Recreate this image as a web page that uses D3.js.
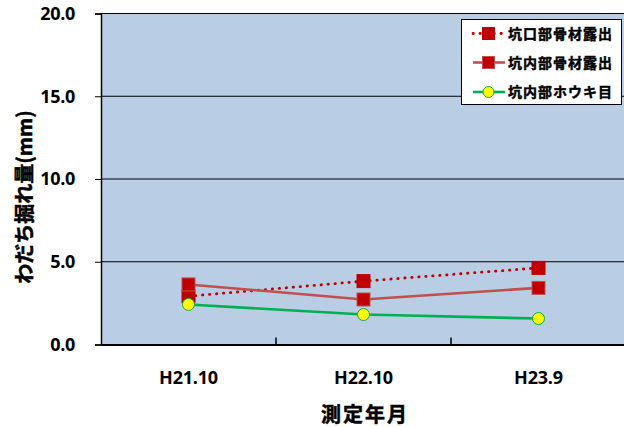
<!DOCTYPE html>
<html><head><meta charset="utf-8">
<script src="https://cdn.jsdelivr.net/npm/d3@7"></script>
<style>
html,body{margin:0;padding:0;background:#fff;overflow:hidden;}
svg{display:block;font-family:"Open Sans","Noto Sans CJK JP",sans-serif;}
</style></head>
<body>
<svg id="chart" width="624" height="427"></svg>
<script>
const categories = ["H21.10", "H22.10", "H23.9"];
const seriesNames = ["坑口部骨材露出", "坑内部骨材露出", "坑内部ホウキ目"];
const koguchiKotsuzai = [2.92, 3.83, 4.63];
const kounaiKotsuzai = [3.63, 2.72, 3.42];
const kounaiHouki = [2.42, 1.81, 1.57];
const yTicks = [0, 5, 10, 15, 20];
const yTitle = "わだち掘れ量(mm)";
const xTitle = "測定年月";

const series = [
  {name: seriesNames[0], values: koguchiKotsuzai, stroke: "#C00000", dash: "0.4,6.6", width: 2.8, marker: "square", fill: "#C00000", mstroke: "#C00000"},
  {name: seriesNames[1], values: kounaiKotsuzai, stroke: "#C0504D", dash: null, width: 2.6, marker: "square", fill: "#C00000", mstroke: "#C0504D"},
  {name: seriesNames[2], values: kounaiHouki, stroke: "#00B050", dash: null, width: 2.6, marker: "circle", fill: "#FFFF00", mstroke: "#00B050"}
];

const svg = d3.select("#chart");
const L = 101, R = 626, T = 13.5, B = 344.5;
const x = d3.scaleBand().domain(categories).range([L, R]);
const y = d3.scaleLinear().domain([0, 20]).range([B, T]);

svg.append("rect").attr("x", L).attr("y", T).attr("width", R - L).attr("height", B - T).attr("fill", "#B9CDE5");

svg.append("g").selectAll("line").data(yTicks.filter(d => d > 0)).join("line")
  .attr("x1", L).attr("x2", R).attr("y1", d => y(d)).attr("y2", d => y(d))
  .attr("stroke", "#000").attr("stroke-width", 1);

const yAxis = svg.append("g").attr("transform", `translate(${L},0)`)
  .call(d3.axisLeft(y).tickValues(yTicks).tickFormat(d3.format(".1f")).tickSize(6).tickPadding(20));
yAxis.select(".domain").attr("stroke", "#000").attr("stroke-width", 1.5);
yAxis.selectAll(".tick line").attr("stroke", "#000");
yAxis.selectAll("text").attr("font-size", 18).attr("font-weight", "bold").attr("fill", "#000")
  .attr("font-family", "'Open Sans',sans-serif").attr("letter-spacing", -0.3);

const xAxis = svg.append("g").attr("transform", `translate(0,${B})`)
  .call(d3.axisBottom(x).tickSize(0).tickPadding(27));
xAxis.select(".domain").attr("stroke", "#000").attr("stroke-width", 2);
xAxis.selectAll("text").attr("font-size", 18).attr("font-weight", "bold").attr("fill", "#000")
  .attr("font-family", "'Open Sans',sans-serif").attr("letter-spacing", -0.2);
svg.append("g").selectAll("line").data(categories.slice(1)).join("line")
  .attr("x1", d => x(d)).attr("x2", d => x(d)).attr("y1", B - 7).attr("y2", B)
  .attr("stroke", "#000").attr("stroke-width", 1.5);

svg.append("text").attr("transform", `translate(32,197) rotate(-90)`).attr("text-anchor", "middle")
  .attr("font-size", 20).attr("font-weight", "bold").attr("font-family", "'Noto Sans CJK JP',sans-serif")
  .attr("stroke", "#000").attr("stroke-width", 0.5)
  .text(yTitle);
svg.append("text").attr("x", 365).attr("y", 422).attr("text-anchor", "middle")
  .attr("font-size", 20).attr("font-weight", "bold").attr("font-family", "'Noto Sans CJK JP',sans-serif")
  .attr("stroke", "#000").attr("stroke-width", 0.5)
  .attr("letter-spacing", 2).text(xTitle);

const cx = d => x(d) + x.bandwidth() / 2;
const line = d3.line().x(d => cx(d.c)).y(d => y(d.v));

series.forEach(s => {
  const pts = categories.map((c, i) => ({c, v: s.values[i]}));
  const p = svg.append("path").datum(pts).attr("d", line).attr("fill", "none")
    .attr("stroke", s.stroke).attr("stroke-width", s.width).attr("stroke-linecap", s.dash ? "round" : "butt");
  if (s.dash) p.attr("stroke-dasharray", s.dash);
});
series.forEach(s => {
  const pts = categories.map((c, i) => ({c, v: s.values[i]}));
  const g = svg.append("g");
  if (s.marker === "square") {
    g.selectAll("rect").data(pts).join("rect")
      .attr("x", d => cx(d.c) - 6.5).attr("y", d => y(d.v) - 6.5).attr("width", 13).attr("height", 13)
      .attr("fill", s.fill).attr("stroke", s.mstroke).attr("stroke-width", 1);
  } else {
    g.selectAll("circle").data(pts).join("circle")
      .attr("cx", d => cx(d.c)).attr("cy", d => y(d.v)).attr("r", 6)
      .attr("fill", s.fill).attr("stroke", s.mstroke).attr("stroke-width", 1);
  }
});

const lg = svg.append("g");
lg.append("rect").attr("x", 461.5).attr("y", 19.5).attr("width", 160).attr("height", 85)
  .attr("fill", "#fff").attr("stroke", "#000").attr("stroke-width", 1);
const ly = [33.5, 62.5, 92];
series.forEach((s, i) => {
  const l = lg.append("line").attr("x1", 473).attr("x2", 505).attr("y1", ly[i]).attr("y2", ly[i])
    .attr("stroke", s.stroke).attr("stroke-width", s.width).attr("stroke-linecap", s.dash ? "round" : "butt");
  if (s.dash) l.attr("stroke-dasharray", s.dash);
  if (s.marker === "square") {
    lg.append("rect").attr("x", 488.5 - 6).attr("y", ly[i] - 6).attr("width", 12).attr("height", 12)
      .attr("fill", s.fill).attr("stroke", s.mstroke);
  } else {
    lg.append("circle").attr("cx", 488.5).attr("cy", ly[i]).attr("r", 5.5)
      .attr("fill", s.fill).attr("stroke", s.mstroke);
  }
  lg.append("text").attr("x", 508).attr("y", ly[i]).attr("dy", "0.36em")
    .attr("font-size", 14).attr("font-weight", "bold").attr("font-family", "'Noto Sans CJK JP',sans-serif")
    .attr("stroke", "#000").attr("stroke-width", 0.45)
    .attr("letter-spacing", 1).text(s.name);
});
</script>
</body></html>
